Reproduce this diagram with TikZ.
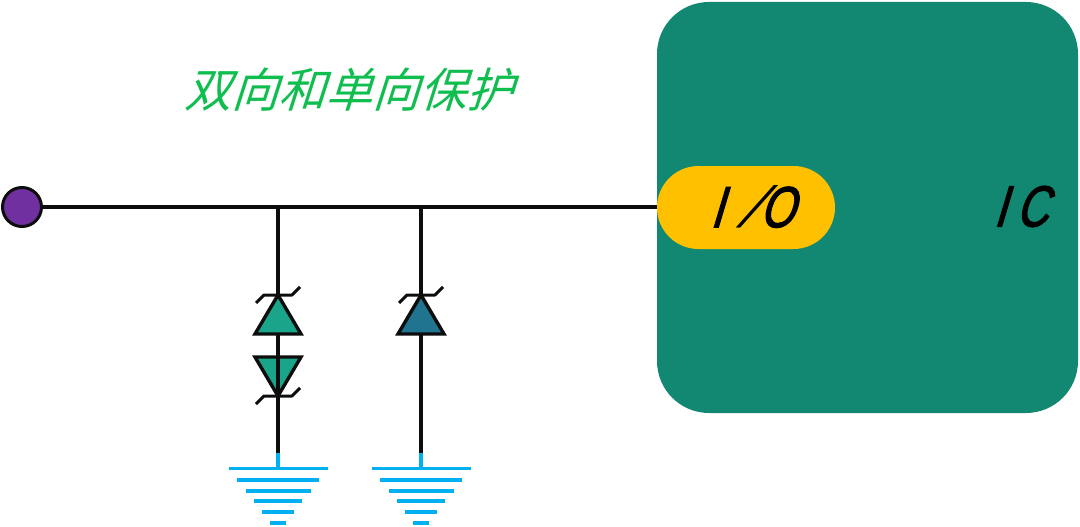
\documentclass[tikz,border=0pt]{standalone}
\usepackage{fontspec}
\newfontfamily\cjk[FakeSlant=0.32]{Noto Sans CJK SC}
\newfontfamily\lat[FakeStretch=0.76,FakeSlant=0.3,FakeBold=2]{Liberation Sans}
\newfontfamily\slashf[FakeSlant=0.62]{Liberation Sans}
\definecolor{icgreen}{HTML}{128872}
\definecolor{pill}{HTML}{FFC000}
\definecolor{dot}{HTML}{7030A0}
\definecolor{dioA}{HTML}{1AA58A}
\definecolor{dioB}{HTML}{20748F}
\definecolor{gnd}{HTML}{00B0F0}
\definecolor{title}{HTML}{10BE50}
\tikzset{
  wire/.style={line width=3.1pt,black!95},
  gndline/.style={line width=3.1pt,gnd},
  dio/.style={line width=3.4pt,black!95,line join=miter},
  zen/.style={line width=3pt,black!95,line join=round},
  lbl/.style={inner sep=0pt,text=black}
}
\newcommand{\gndsym}[1]{%
  \draw[gndline] (#1,453) -- (#1,468);
  \draw[gndline] (#1-49.5,468.5) -- (#1+49.5,468.5);
  \draw[gndline] (#1-41,480) -- (#1+41,480);
  \draw[gndline] (#1-32.5,491) -- (#1+32.5,491);
  \draw[gndline] (#1-24,501) -- (#1+24,501);
  \draw[gndline] (#1-16,512) -- (#1+16,512);
  \draw[gndline] (#1-8,523) -- (#1+8,523);
}
\newcommand{\zenbar}[2]{%
  \draw[zen] (#1-22,#2+8) -- (#1-14,#2) -- (#1+14,#2) -- (#1+22,#2-8);
}
\begin{document}
\begin{tikzpicture}[x=1pt,y=-1pt]
\useasboundingbox (0,0) rectangle (1080,527);
\fill[icgreen,rounded corners=52pt] (657,2) rectangle (1078,413);
\node[fill=pill,rounded corners=41.5pt,minimum width=178pt,minimum height=83pt,inner sep=0pt,anchor=center] (io) at (746,207.5) {};
\node[lbl,font=\lat\fontsize{58}{58}\selectfont,anchor=center] (iot) at (752,206.5) {I\kern14pt{\slashf /}\kern7pt O};
\node[lbl,font=\lat\fontsize{58}{58}\selectfont,anchor=center] (ict) at (1020.5,206.5) {I\kern10pt C};
\node[inner sep=0pt,text=title,font=\cjk\fontsize{47}{47}\selectfont,anchor=center] (ttl) at (349,90) {双向和单向保护};
\node[circle,draw=black!95,fill=dot,line width=3pt,minimum size=39pt,inner sep=0pt] (in) at (22,207) {};
\coordinate (j1) at (278,207);
\coordinate (j2) at (421,207);
\coordinate (b1) at (278,453);
\coordinate (b2) at (421,453);
\draw[wire] (in.east) -- (in.east -| io.west);
\draw[wire] (j1) -- (b1);
\draw[wire] (j2) -- (b2);
% bidirectional pair
\draw[dio,fill=dioA] (278,295) -- (301,334) -- (255,334) -- cycle;
\zenbar{278}{295}
\draw[dio,fill=dioA] (255,357) -- (301,357) -- (278,396) -- cycle;
\draw[wire] (278,357) -- (278,396);
\zenbar{278}{396}
% unidirectional
\draw[dio,fill=dioB] (421,295) -- (444,334) -- (398,334) -- cycle;
\zenbar{421}{295}
\gndsym{278}
\gndsym{421}
\end{tikzpicture}
\end{document}
